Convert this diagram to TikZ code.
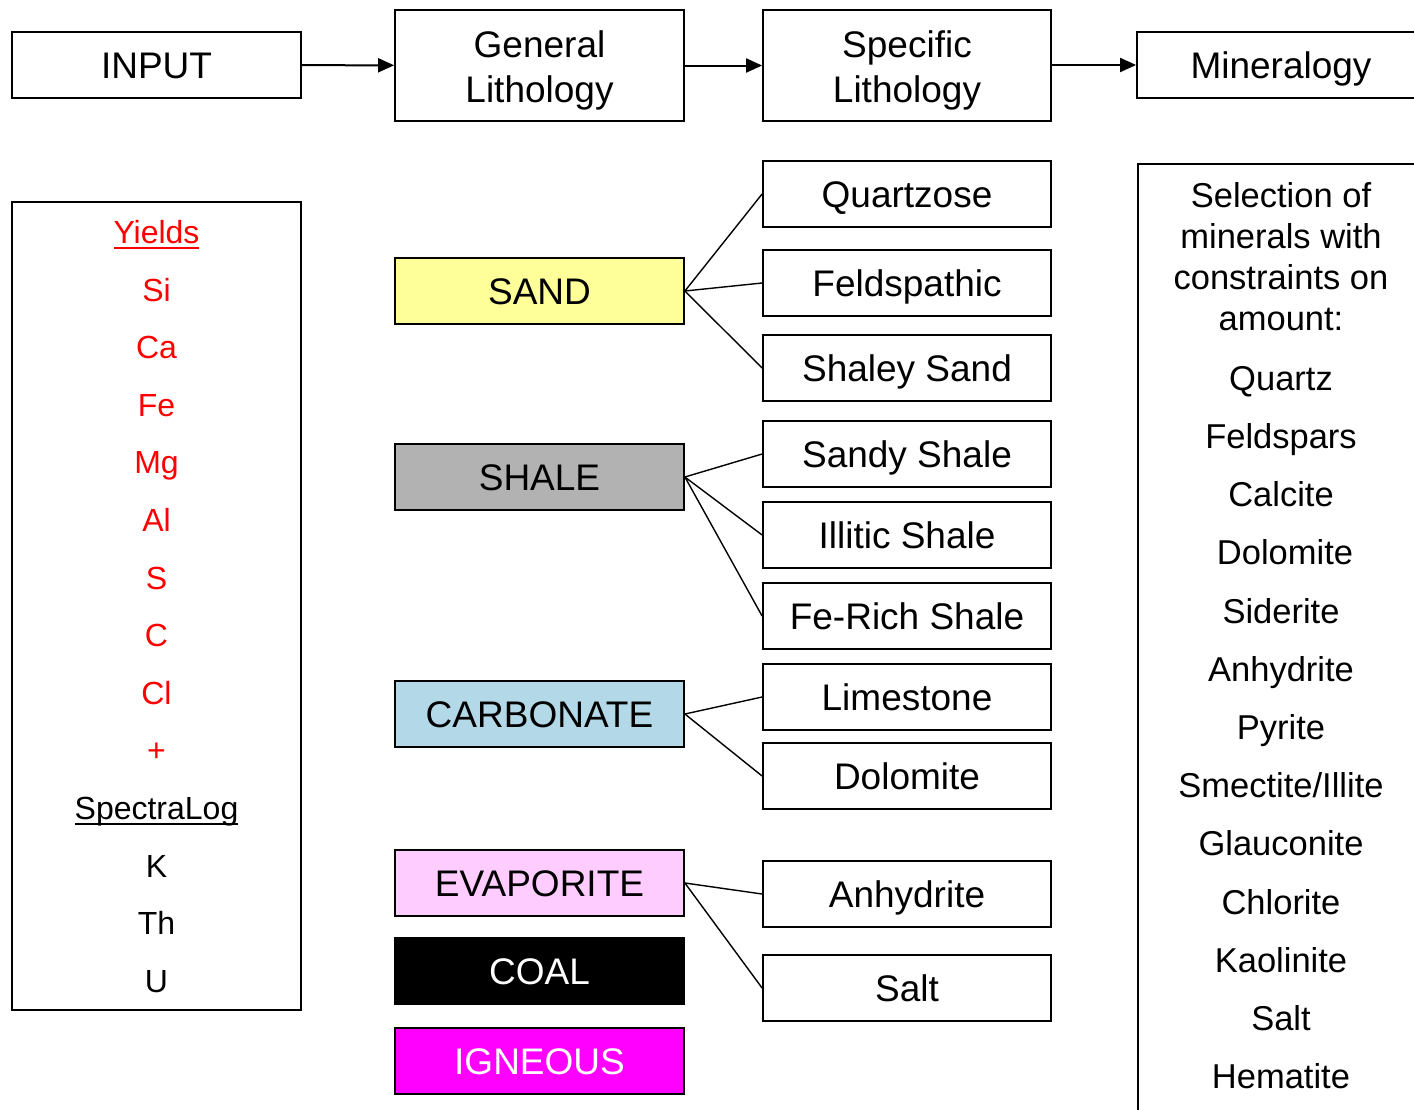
\documentclass[tikz,border=0pt]{standalone}
\usepackage{fontspec}
\setmainfont{Liberation Sans}
\usetikzlibrary{arrows.meta}
\definecolor{sandc}{HTML}{FFFF99}
\definecolor{shalec}{HTML}{B2B2B2}
\definecolor{carbc}{HTML}{B3D8E8}
\definecolor{evapc}{HTML}{FFCCFF}
\definecolor{ignc}{HTML}{FF00FF}
\definecolor{redt}{HTML}{FF0000}
\newcommand{\myul}[1]{\setbox0\hbox{#1}\rlap{\rule[-5pt]{\wd0}{2pt}}\box0}
\begin{document}
\begin{tikzpicture}[x=1pt,y=-1pt,
  box/.style={draw=black, line width=1.8pt, inner sep=0pt, align=center,
    font=\fontsize{37}{45}\selectfont},
  onebox/.style={box, minimum width=289pt, minimum height=66pt,
    text height=26.5pt, text depth=0pt},
  twobox/.style={box, minimum width=289pt, minimum height=111pt},
  specbox/.style={onebox, minimum width=288pt},
  frame/.style={draw=black, line width=1.8pt, inner sep=0pt},
  listitem/.style={anchor=base, inner sep=0pt, font=\fontsize{32}{38}\selectfont},
  minitem/.style={anchor=base, inner sep=0pt, font=\fontsize{34.5}{41}\selectfont},
  link/.style={line width=1.4pt},
  flow/.style={line width=2pt, -{Triangle[length=16pt,width=14pt]}},
]
\useasboundingbox (0,0) rectangle (1414,1109);
\clip (0,0) rectangle (1414,1109);
\fill[white] (0,0) rectangle (1414,1109);

% top row
\node[onebox] (input) at (156.5,65) {INPUT};
\node[twobox] (genlith) at (539.5,65.5) {\rule{0pt}{36pt}General\\Lithology};
\node[twobox, minimum width=288pt] (speclith) at (907,65.5) {\rule{0pt}{36pt}Specific\\Lithology};
\node[specbox] (minbox) at (1281,65) {Mineralogy};
\draw[flow] (input) -- (genlith);
\draw[flow] (genlith) -- (speclith);
\draw[flow] (speclith.east |- minbox) -- (minbox);

% input list
\node[frame, minimum width=289pt, minimum height=808pt] (inbox) at (156.5,606) {};
\begin{scope}[every node/.style={listitem}]
\node[text=redt] (yl) at (156.5,243.5) {\myul{Yields}};
\node[text=redt] (si) at (156.5,301.1) {Si};
\node[text=redt] (ca) at (156.5,358.7) {Ca};
\node[text=redt] (fe) at (156.5,416.3) {Fe};
\node[text=redt] (mg) at (156.5,473.9) {Mg};
\node[text=redt] (al) at (156.5,531.5) {Al};
\node[text=redt] (s) at (156.5,589.1) {S};
\node[text=redt] (c) at (156.5,646.7) {C};
\node[text=redt] (cl) at (156.5,704.3) {Cl};
\node[text=redt] (plus) at (156.5,761.9) {+};
\node (sl) at (156.5,819.5) {\myul{SpectraLog}};
\node (k) at (156.5,877.1) {K};
\node (th) at (156.5,934.7) {Th};
\node (u) at (156.5,992.3) {U};
\end{scope}

% general lithology
\node[onebox, fill=sandc] (sand) at (539.5,291) {SAND};
\node[onebox, fill=shalec] (shale) at (539.5,477) {SHALE};
\node[onebox, fill=carbc] (carb) at (539.5,714) {CARBONATE};
\node[onebox, fill=evapc] (evap) at (539.5,883) {EVAPORITE};
\node[onebox, fill=black, text=white] (coal) at (539.5,971) {COAL};
\node[onebox, fill=ignc, text=white] (ign) at (539.5,1061) {IGNEOUS};

% specific lithology
\node[specbox] (qtz) at (907,194) {Quartzose};
\node[specbox] (feld) at (907,283) {Feldspathic};
\node[specbox] (shsand) at (907,368) {Shaley Sand};
\node[specbox] (sdshale) at (907,454) {Sandy Shale};
\node[specbox] (ill) at (907,535) {Illitic Shale};
\node[specbox] (ferich) at (907,616) {Fe-Rich Shale};
\node[specbox] (lime) at (907,697) {Limestone};
\node[specbox] (dolo) at (907,776) {Dolomite};
\node[specbox] (anhy) at (907,894) {Anhydrite};
\node[specbox] (salt) at (907,988) {Salt};

\draw[link] (sand.east) -- (qtz.west);
\draw[link] (sand.east) -- (feld.west);
\draw[link] (sand.east) -- (shsand.west);
\draw[link] (shale.east) -- (sdshale.west);
\draw[link] (shale.east) -- (ill.west);
\draw[link] (shale.east) -- (ferich.west);
\draw[link] (carb.east) -- (lime.west);
\draw[link] (carb.east) -- (dolo.west);
\draw[link] (evap.east) -- (anhy.west);
\draw[link] (evap.east) -- (salt.west);

% mineralogy list
\node[frame, anchor=north west, minimum width=300pt, minimum height=980pt] (minlist) at (1137,163) {};
\begin{scope}[every node/.style={minitem}]
\node (h1) at (1281,207) {Selection of};
\node (h2) at (1281,248) {minerals with};
\node (h3) at (1281,289.5) {constraints on};
\node (h4) at (1281,330.5) {amount:};
\node (m1) at (1281,390) {Quartz};
\node (m2) at (1281,448) {Feldspars};
\node (m3) at (1281,506.5) {Calcite};
\node (m4) at (1285,564.5) {Dolomite};
\node (m5) at (1281,623) {Siderite};
\node (m6) at (1281,681) {Anhydrite};
\node (m7) at (1281,739.5) {Pyrite};
\node (m8) at (1281,797.5) {Smectite/Illite};
\node (m9) at (1281,855.5) {Glauconite};
\node (m10) at (1281,914) {Chlorite};
\node (m11) at (1281,972) {Kaolinite};
\node (m12) at (1281,1030.5) {Salt};
\node (m13) at (1281,1088.5) {Hematite};
\end{scope}
\end{tikzpicture}
\end{document}
